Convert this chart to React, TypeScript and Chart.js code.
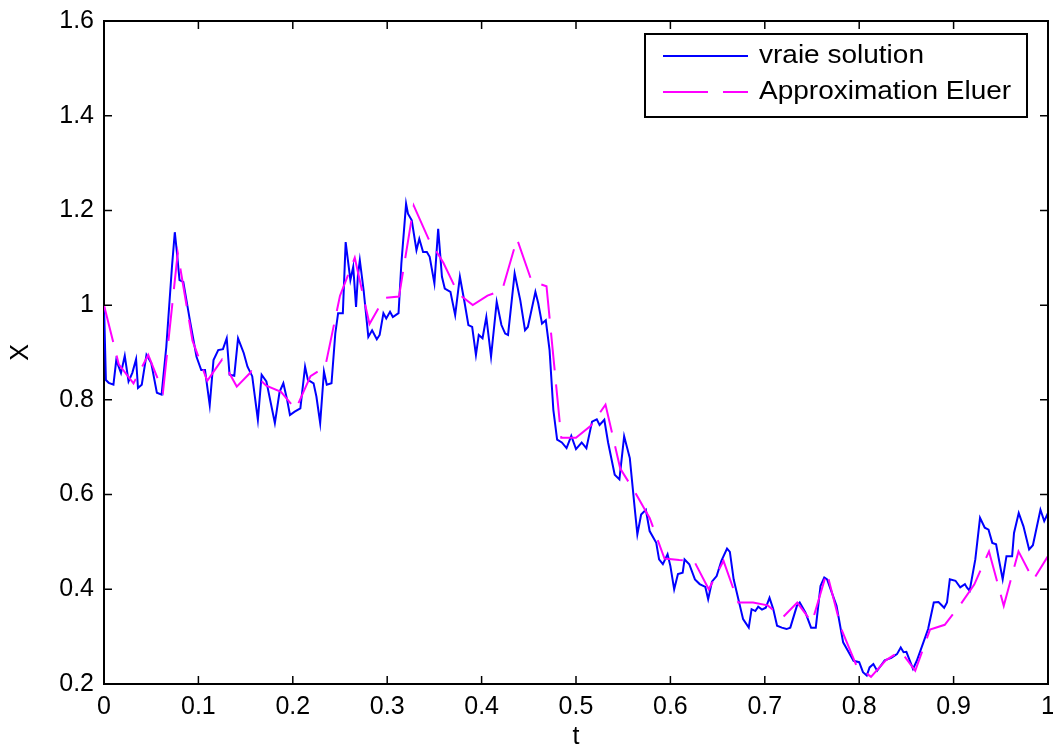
import React, { useEffect, useRef } from "react";
import { Chart, registerables } from "chart.js";

Chart.register(...registerables);

// "vraie solution" — vertices (t, X)
const tTrue = [
  0, 0.002, 0.005, 0.010, 0.013, 0.018, 0.022, 0.026, 0.030, 0.034, 0.036, 0.040, 0.045, 0.050, 0.056, 0.061,
  0.066, 0.072, 0.075, 0.077, 0.080, 0.084, 0.091, 0.098, 0.103, 0.107, 0.112, 0.116, 0.121, 0.126, 0.130, 0.133,
  0.138, 0.142, 0.148, 0.152, 0.157, 0.163, 0.167, 0.172, 0.181, 0.186, 0.190, 0.194, 0.197, 0.202, 0.208, 0.213,
  0.216, 0.222, 0.225, 0.229, 0.233, 0.236, 0.241, 0.245, 0.248, 0.253, 0.256, 0.261, 0.264, 0.267, 0.269, 0.271,
  0.275, 0.280, 0.284, 0.289, 0.292, 0.296, 0.299, 0.303, 0.306, 0.312, 0.315, 0.320, 0.322, 0.326, 0.331, 0.334,
  0.338, 0.342, 0.345, 0.350, 0.354, 0.358, 0.361, 0.367, 0.372, 0.377, 0.382, 0.386, 0.390, 0.394, 0.397, 0.401,
  0.405, 0.410, 0.416, 0.421, 0.425, 0.428, 0.435, 0.441, 0.446, 0.449, 0.457, 0.460, 0.464, 0.468, 0.472, 0.476,
  0.480, 0.485, 0.490, 0.495, 0.500, 0.506, 0.511, 0.517, 0.522, 0.525, 0.530, 0.534, 0.541, 0.546, 0.551, 0.557,
  0.562, 0.565, 0.569, 0.574, 0.578, 0.585, 0.588, 0.592, 0.597, 0.600, 0.604, 0.608, 0.613, 0.615, 0.620, 0.626,
  0.631, 0.637, 0.640, 0.644, 0.649, 0.654, 0.660, 0.663, 0.667, 0.670, 0.677, 0.683, 0.686, 0.690, 0.693, 0.697,
  0.701, 0.705, 0.709, 0.713, 0.718, 0.723, 0.727, 0.734, 0.737, 0.743, 0.749, 0.754, 0.759, 0.763, 0.766, 0.771,
  0.776, 0.783, 0.788, 0.794, 0.800, 0.804, 0.808, 0.811, 0.815, 0.819, 0.827, 0.834, 0.840, 0.844, 0.847, 0.850,
  0.857, 0.861, 0.868, 0.873, 0.879, 0.884, 0.890, 0.893, 0.896, 0.902, 0.907, 0.912, 0.914, 0.917, 0.923, 0.928,
  0.933, 0.937, 0.941, 0.945, 0.948, 0.952, 0.956, 0.962, 0.964, 0.969, 0.974, 0.980, 0.984, 0.992, 0.996, 1.0,
];
const xTrue = [
  1.0, 0.842, 0.836, 0.832, 0.884, 0.857, 0.893, 0.839, 0.857, 0.886, 0.825, 0.832, 0.895, 0.878, 0.815, 0.811,
  0.912, 1.081, 1.154, 1.116, 1.053, 1.049, 0.968, 0.891, 0.863, 0.863, 0.789, 0.884, 0.905, 0.907, 0.930, 0.853,
  0.851, 0.930, 0.899, 0.870, 0.850, 0.758, 0.853, 0.839, 0.751, 0.817, 0.835, 0.800, 0.768, 0.775, 0.782, 0.870,
  0.842, 0.835, 0.807, 0.751, 0.860, 0.832, 0.835, 0.940, 0.983, 0.983, 1.133, 1.053, 1.081, 0.996, 1.063, 1.095,
  1.032, 0.933, 0.947, 0.928, 0.937, 0.983, 0.972, 0.986, 0.975, 0.983, 1.088, 1.214, 1.193, 1.179, 1.116, 1.140,
  1.112, 1.112, 1.102, 1.046, 1.161, 1.060, 1.035, 1.028, 0.979, 1.060, 1.005, 0.958, 0.954, 0.895, 0.937, 0.930,
  0.975, 0.891, 1.007, 0.958, 0.940, 0.937, 1.067, 1.010, 0.947, 0.954, 1.028, 1.004, 0.961, 0.968, 0.905, 0.779,
  0.716, 0.710, 0.698, 0.724, 0.696, 0.710, 0.698, 0.754, 0.759, 0.747, 0.758, 0.710, 0.642, 0.632, 0.723, 0.677,
  0.575, 0.516, 0.558, 0.568, 0.523, 0.498, 0.463, 0.453, 0.474, 0.449, 0.400, 0.432, 0.435, 0.463, 0.453, 0.421,
  0.411, 0.405, 0.379, 0.416, 0.428, 0.460, 0.486, 0.479, 0.421, 0.396, 0.337, 0.319, 0.358, 0.354, 0.363, 0.357,
  0.361, 0.382, 0.358, 0.323, 0.319, 0.316, 0.319, 0.365, 0.372, 0.351, 0.319, 0.319, 0.407, 0.425, 0.421, 0.393,
  0.365, 0.288, 0.270, 0.249, 0.246, 0.225, 0.218, 0.235, 0.242, 0.228, 0.250, 0.255, 0.263, 0.277, 0.267, 0.268,
  0.232, 0.249, 0.288, 0.316, 0.372, 0.373, 0.361, 0.372, 0.421, 0.418, 0.404, 0.411, 0.404, 0.397, 0.463, 0.551,
  0.530, 0.526, 0.498, 0.495, 0.463, 0.421, 0.470, 0.470, 0.519, 0.561, 0.533, 0.484, 0.493, 0.568, 0.544, 0.561,
];

// "Approximation Eluer" — Euler scheme values on a grid of 64 steps over [0, 1]
const eulerSteps = 64;
const xEuler = [
  1.0, 0.875, 0.835, 0.895, 0.817, 1.11, 0.925, 0.84, 0.885, 0.828, 0.86, 0.83, 0.817, 0.78, 0.85, 0.87,
  1.02, 1.10, 0.96, 1.015, 1.018, 1.21, 1.14, 1.09, 1.025, 1.0, 1.02, 1.032, 1.14, 1.05, 1.04, 0.72,
  0.72, 0.745, 0.79, 0.655, 0.605, 0.55, 0.465, 0.462, 0.46, 0.40, 0.46, 0.372, 0.372, 0.366, 0.34, 0.372,
  0.33, 0.436, 0.315, 0.24, 0.215, 0.25, 0.27, 0.228, 0.315, 0.325, 0.365, 0.41, 0.48, 0.365, 0.48, 0.42,
  0.47,
];
const tEuler = xEuler.map((_, k) => k / eulerSteps);

const xTicks = [0, 0.1, 0.2, 0.3, 0.4, 0.5, 0.6, 0.7, 0.8, 0.9, 1];
const yTicks = [0.2, 0.4, 0.6, 0.8, 1, 1.2, 1.4, 1.6];
const seriesLabels = ["vraie solution", "Approximation Eluer"];
const xTitle = "t";
const yTitle = "X";

const FONT = '"Liberation Sans", Arial, Helvetica, sans-serif';
const BLUE = "#0000ff";
const MAGENTA = "#ff00ff";
const DASH = [38, 14];

const fmt = (v: number) => String(parseFloat(Number(v).toFixed(1)));

const framePlugin = {
  id: "matlabFrame",
  afterDraw(chart: any) {
    const { ctx, chartArea } = chart;
    const { left, right, top, bottom } = chartArea;
    const xs = chart.scales.x;
    const ys = chart.scales.y;
    ctx.save();
    ctx.strokeStyle = "#000";
    ctx.lineWidth = 2;
    ctx.beginPath();
    ctx.moveTo(left, top);
    ctx.lineTo(right, top);
    ctx.lineTo(right, bottom);
    ctx.stroke();
    ctx.lineWidth = 1.5;
    const tl = 8;
    ctx.beginPath();
    xTicks.forEach((v) => {
      const px = xs.getPixelForValue(v);
      ctx.moveTo(px, bottom);
      ctx.lineTo(px, bottom - tl);
      ctx.moveTo(px, top);
      ctx.lineTo(px, top + tl);
    });
    yTicks.forEach((v) => {
      const py = ys.getPixelForValue(v);
      ctx.moveTo(left, py);
      ctx.lineTo(left + tl, py);
      ctx.moveTo(right, py);
      ctx.lineTo(right - tl, py);
    });
    ctx.stroke();

    // legend box
    const boxRight = right - 21;
    const boxTop = top + 13;
    const boxW = 382;
    const boxH = 83;
    const boxLeft = boxRight - boxW;
    ctx.fillStyle = "#fff";
    ctx.fillRect(boxLeft, boxTop, boxW, boxH);
    ctx.lineWidth = 2;
    ctx.strokeStyle = "#000";
    ctx.strokeRect(boxLeft, boxTop, boxW, boxH);
    const rows = [boxTop + 22, boxTop + 58];
    const lx0 = boxLeft + 18;
    const lx1 = boxLeft + 103;
    const colors = [BLUE, MAGENTA];
    rows.forEach((ry, i) => {
      ctx.save();
      ctx.strokeStyle = colors[i];
      ctx.lineWidth = 2;
      if (i === 1) ctx.setLineDash([45, 15]);
      ctx.beginPath();
      ctx.moveTo(lx0, ry);
      ctx.lineTo(lx1, ry);
      ctx.stroke();
      ctx.restore();
      ctx.save();
      ctx.fillStyle = "#000";
      ctx.font = `25px ${FONT}`;
      ctx.textBaseline = "middle";
      ctx.textAlign = "left";
      ctx.translate(boxLeft + 114, ry);
      ctx.scale(1.12, 1);
      ctx.fillText(seriesLabels[i], 0, 0);
      ctx.restore();
    });
    ctx.restore();
  },
};

export default function App() {
  const ref = useRef<HTMLCanvasElement | null>(null);
  useEffect(() => {
    const canvas = ref.current;
    if (!canvas) return;
    const tickFont = { family: FONT, size: 25 };
    const chart = new Chart(canvas, {
      type: "line",
      data: {
        datasets: [
          {
            label: seriesLabels[0],
            data: tTrue.map((t, i) => ({ x: t, y: xTrue[i] })),
            borderColor: BLUE,
            backgroundColor: BLUE,
            borderWidth: 2,
            pointRadius: 0,
            tension: 0,
            fill: false,
            order: 2,
          },
          {
            label: seriesLabels[1],
            data: tEuler.map((t, i) => ({ x: t, y: xEuler[i] })),
            borderColor: MAGENTA,
            backgroundColor: MAGENTA,
            borderWidth: 2,
            borderDash: DASH,
            pointRadius: 0,
            tension: 0,
            fill: false,
            order: 1,
          },
        ],
      },
      options: {
        responsive: false,
        animation: false,
        events: [],
        layout: { padding: { top: 21, right: 5, left: 0, bottom: 0 } },
        plugins: { legend: { display: false }, tooltip: { enabled: false } },
        scales: {
          x: {
            type: "linear",
            min: 0,
            max: 1,
            afterBuildTicks: (s: any) => {
              s.ticks = xTicks.map((value) => ({ value }));
            },
            afterFit: (s: any) => {
              s.height = 63;
              s.paddingLeft = 0;
              s.paddingRight = 0;
            },
            grid: { display: true, drawOnChartArea: false, drawTicks: false },
            border: { display: true, color: "#000", width: 2 },
            ticks: {
              color: "#000",
              font: tickFont,
              padding: 8,
              maxRotation: 0,
              autoSkip: false,
              callback: (v: any) => fmt(v),
            },
            title: {
              display: true,
              text: xTitle,
              color: "#000",
              font: { family: FONT, size: 25, lineHeight: 1 },
              padding: { top: 0, bottom: -3 },
            },
          },
          y: {
            type: "linear",
            min: 0.2,
            max: 1.6,
            afterBuildTicks: (s: any) => {
              s.ticks = yTicks.map((value) => ({ value }));
            },
            afterFit: (s: any) => {
              s.width = 104;
              s.paddingTop = 0;
              s.paddingBottom = 0;
            },
            grid: { display: true, drawOnChartArea: false, drawTicks: false },
            border: { display: true, color: "#000", width: 2 },
            ticks: {
              color: "#000",
              font: tickFont,
              padding: 10,
              autoSkip: false,
              callback: (v: any) => fmt(v),
            },
            title: {
              display: true,
              text: yTitle,
              color: "#000",
              font: { family: FONT, size: 25, lineHeight: 1 },
              padding: { top: 9, bottom: 0 },
            },
          },
        },
      },
      plugins: [framePlugin],
    } as any);
    return () => chart.destroy();
  }, []);
  return (
    <div style={{ position: "fixed", left: 0, top: 0, background: "#fff" }}>
      <canvas ref={ref} width={1053} height={747} style={{ display: "block", width: 1053, height: 747 }} />
    </div>
  );
}
